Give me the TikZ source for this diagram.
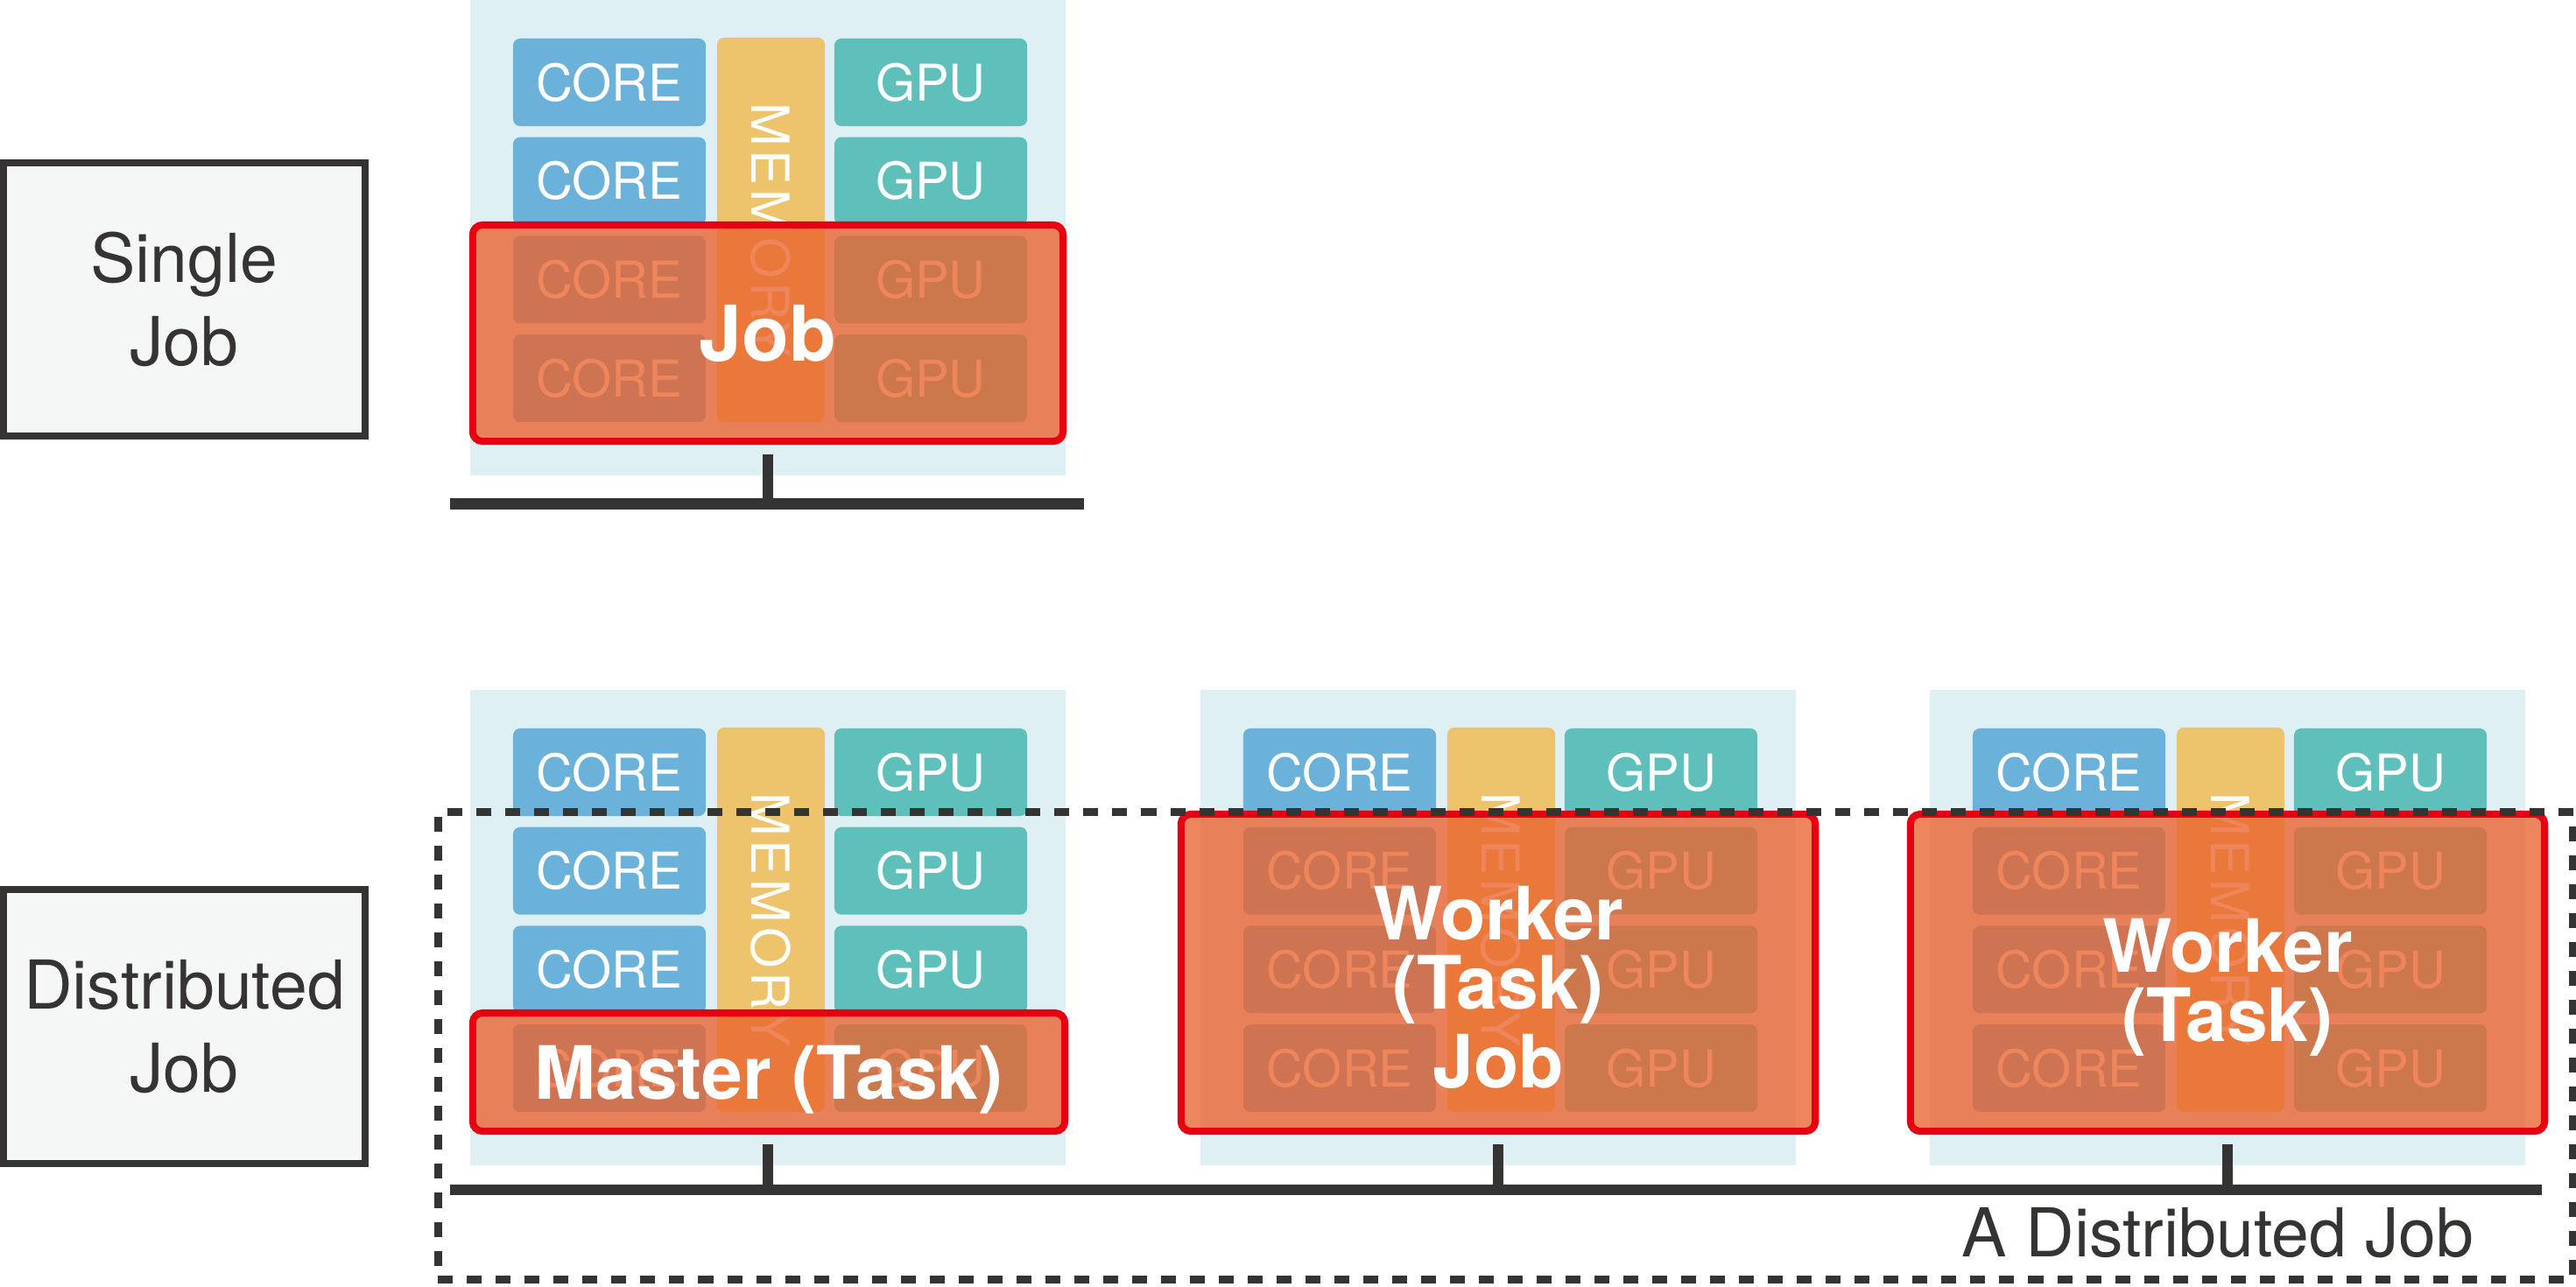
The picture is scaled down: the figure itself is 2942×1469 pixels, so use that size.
\documentclass[tikz,border=0pt]{standalone}
\usepackage{fontspec}
\setmainfont{TeX Gyre Heros}

\definecolor{panel}{HTML}{DFF0F4}
\definecolor{coreblue}{HTML}{6BB2DB}
\definecolor{memyellow}{HTML}{EDC46B}
\definecolor{gputeal}{HTML}{5FC0BB}
\definecolor{ink}{HTML}{363432}
\definecolor{jobred}{HTML}{E60012}
\definecolor{joborange}{HTML}{EB632E}
\definecolor{tagfill}{HTML}{F5F7F7}

\tikzset{
	machine/.style={fill=panel, minimum width=6.8cm, minimum height=5.43cm, inner sep=0pt},
	unit/.style={rounded corners=2.3pt, inner sep=0pt, text=white, font=\fontsize{16.5}{18}\selectfont},
	corebox/.style={unit, fill=coreblue, minimum width=2.2cm, minimum height=1cm},
	gpubox/.style={unit, fill=gputeal, minimum width=2.2cm, minimum height=1cm},
	membox/.style={unit, fill=memyellow, minimum width=4.39cm, minimum height=1.23cm, rotate=-90, font=\fontsize{17}{18}\selectfont\addfontfeature{LetterSpace=8}},
	taskbox/.style={draw=jobred, line width=2.3pt, fill=joborange, fill opacity=0.78, text opacity=1, rounded corners=3.2pt, inner sep=0pt},
	tasktext/.style={text=white, align=center, inner sep=0pt, font=\bfseries\fontsize{23.9}{22.4}\selectfont},
	tagbox/.style={draw=ink, line width=2.3pt, fill=tagfill, minimum width=4.13cm, minimum height=3.12cm, align=center, text=ink, font=\fontsize{21.9}{27}\selectfont},
	bus/.style={ink, line width=3.6pt},
	stub/.style={ink, line width=3.4pt},
	distframe/.style={draw=ink, line width=2.56pt, dash pattern=on 4.84pt off 4.55pt, minimum width=24.37cm, minimum height=5.33cm, inner sep=0pt}
}

\begin{document}
\begin{tikzpicture}[x=0.01cm, y=-0.01cm]
		\useasboundingbox (0,0) rectangle (2942,1469);
		% labels on the left
		\node[tagbox] (single) at (210.5,342) {Single\\Job};
		\node[tagbox] (distrib) at (210.5,1172.5) {Distributed\\Job};
		% the four machines
		\foreach \mx/\my [count=\i] in {537/0, 537/788, 1371/788, 2204/788} {
			\node[machine] (m\i) at (\mx+340,\my+271.5) {};
			\foreach \r in {0,...,3} {
				\node[corebox] (c\i\r) at (\mx+159,\my+94+112.7*\r) {CORE};
				\node[gpubox] (g\i\r) at (\mx+526,\my+94+112.7*\r) {GPU};
			}
			\node[membox] (mem\i) at (\mx+343.5,\my+262.5) {MEMORY};
		}
		% networks
		\coordinate (topL) at (514,575.5);
		\coordinate (topR) at (1238,575.5);
		\coordinate (busL) at (514,1359);
		\coordinate (busR) at (2903,1359);
		\draw[bus] (topL) -- (topR);
		\draw[bus] (busL) -- (busR);
		\draw[stub] ([yshift=7.1pt]m1.south) -- (m1.south |- topL);
		\foreach \i in {2,3,4}
			\draw[stub] ([yshift=7.1pt]m\i.south) -- (m\i.south |- busL);
		% jobs and tasks
		\node[taskbox, minimum width=6.74cm, minimum height=2.47cm] (job) at (877,380.5) {};
		\node[tasktext, font=\bfseries\fontsize{25}{30}\selectfont] (jobname) at (job) {Job};
		\node[taskbox, minimum width=6.76cm, minimum height=1.35cm] (master) at (878,1224.5) {};
		\node[tasktext] (mastername) at ([yshift=-2.6pt]master.center) {Master (Task)};
		\node[taskbox, minimum width=7.24cm, minimum height=3.62cm] (worker1) at (1711,1111) {};
		\node[tasktext] (worker1name) at ([yshift=-4.8pt]worker1.center) {Worker\\(Task)\\[3pt]Job};
		\node[taskbox, minimum width=7.24cm, minimum height=3.62cm] (worker2) at (2544,1111) {};
		\node[tasktext] (worker2name) at ([yshift=-4.8pt]worker2.center) {Worker\\(Task)};
		% one distributed job
		\node[distframe] (dist) at (1719.5,1194.5) {};
		\node[text=ink, anchor=base east, font=\fontsize{21.9}{27}\selectfont] (distname) at (2838,1435) {A Distributed Job};
\end{tikzpicture}
\end{document}
